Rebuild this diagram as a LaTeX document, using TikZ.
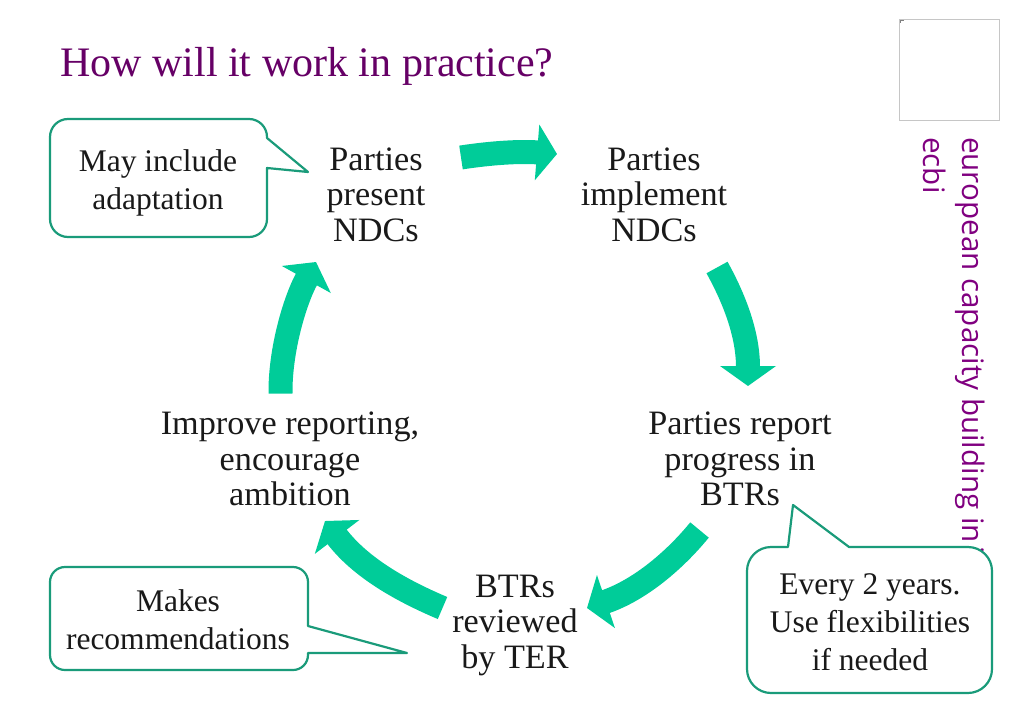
\documentclass[tikz,border=0pt]{standalone}
\usepackage{xcolor}
\usepackage{fontspec}
\setmainfont{Liberation Serif}
\newfontfamily\sidefont{Open Sans}
\usetikzlibrary{arrows.meta,positioning}
\definecolor{slidepurple}{RGB}{102,0,102}
\definecolor{sidepurple}{RGB}{128,0,128}
\definecolor{flowgreen}{RGB}{0,204,153}
\definecolor{calloutgreen}{RGB}{26,155,122}

\begin{document}
\begin{tikzpicture}[
    x=1pt, y=-1pt,
    stage/.style={align=center, inner sep=0pt, text=black!90, font=\fontsize{34.2}{35.5}\selectfont},
    note/.style={align=center, inner sep=0pt, text=black!90, font=\fontsize{31.5}{38}\selectfont},
    balloon/.style={draw=calloutgreen, fill=white, line width=2.2pt, line join=round},
    flow/.style={draw=flowgreen, line width=24pt, -{Triangle[length=20pt,width=55pt]}}
]
\useasboundingbox (0,0) rectangle (1024,709);

% Title and side text
\node[anchor=base west, inner sep=0pt, text=slidepurple, font=\fontsize{42}{44}\selectfont] (title) at (60,76) {How will it work in practice?};
\node[anchor=north west, rotate=-90, inner sep=0pt, text=sidepurple, font=\sidefont\fontsize{29.6}{39}\selectfont, align=left] (side) at (985,137) {european capacity building in\kern-4pt{} i\\ecbi};
\draw[gray!45, line width=1pt] (899,19.5) rectangle (999,120);
\draw[gray, line width=0.8pt] (900.5,23) -- (900.5,20.5) -- (903.5,20.5);

% Stages
\node[stage] (present) at (376,194.5) {Parties\\present\\NDCs};
\node[stage] (implement) at (654,194.5) {Parties\\implement\\NDCs};
\node[stage] (report) at (740,459) {Parties report\\progress in\\BTRs};
\node[stage] (review) at (515,625) {BTRs\\reviewed\\by TER};
\node[stage] (improve) at (290,459) {Improve reporting,\\encourage\\ambition};

% Arrows
\coordinate (presentout) at (461,157.5);
\coordinate (implementin) at (557,154);
\coordinate (implementout) at (717,267.5);
\coordinate (reportin) at (748,386);
\coordinate (reportout) at (699.5,530);
\coordinate (reviewin) at (587,608);
\coordinate (reviewout) at (442.5,608);
\coordinate (improvein) at (325,521);
\coordinate (improveout) at (280.5,393.5);
\coordinate (presentin) at (316,262);
\draw[flow] (presentout) .. controls (490,153) and (520,151) .. (implementin);
\draw[flow] (implementout) .. controls (735,300) and (748,335) .. (reportin);
\draw[flow] (reportout) .. controls (675,560) and (640,590) .. (reviewin);
\draw[flow] (reviewout) .. controls (400,590) and (360,567) .. (improvein);
\draw[flow] (improveout) .. controls (280,350) and (295,300) .. (presentin);

% Callouts
\draw[balloon, rounded corners=18pt] (158,119) -- (267,119) [sharp corners] -- (267,138) -- (308,172) -- (267,168) [rounded corners=18pt] -- (267,237) -- (50,237) -- (50,119) -- cycle;
\node[note] (adaptation) at (158,183) {May include\\adaptation};
\draw[balloon, rounded corners=15pt] (179,567) -- (308,567) [sharp corners] -- (308,626) -- (407,653) -- (308,653) [rounded corners=15pt] -- (308,670) -- (50,670) -- (50,567) -- cycle;
\node[note] (recommend) at (178,620) {Makes\\recommendations};
\draw[balloon, rounded corners=24pt] (747,620) -- (747,547) [sharp corners] -- (788,547) -- (793,505) -- (849,547) [rounded corners=24pt] -- (992,547) -- (992,693) -- (747,693) -- cycle;
\node[note] (flex) at (870,622.5) {Every 2 years.\\Use flexibilities\\if needed};
\end{tikzpicture}
\end{document}
